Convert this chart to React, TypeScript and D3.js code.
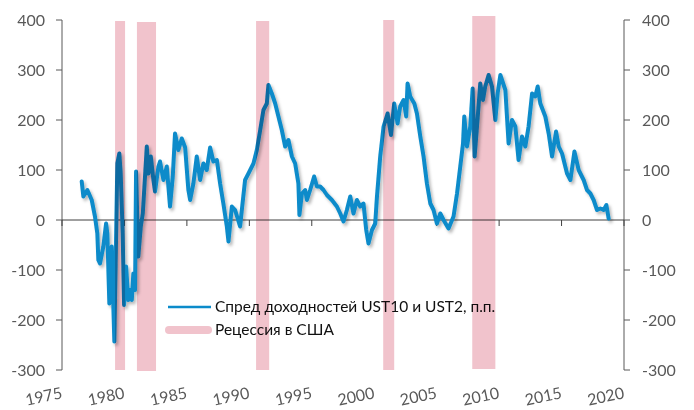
import * as d3 from 'd3';
import React from 'react';

// spread UST10 - UST2, bp
const spreadYears = [
  1976.58, 1976.71, 1977.03, 1977.38, 1977.64, 1977.83, 1977.91, 1978.04, 1978.31, 1978.53,
  1978.63, 1978.79, 1978.98, 1979.19, 1979.43, 1979.59, 1979.70, 1979.86, 1979.97, 1980.13,
  1980.31, 1980.45, 1980.59, 1980.71, 1980.85, 1980.93, 1981.11, 1981.31, 1981.47, 1981.79,
  1981.92, 1982.11, 1982.32, 1982.45, 1982.72, 1982.85, 1983.12, 1983.39, 1983.65, 1983.87,
  1984.05, 1984.32, 1984.59, 1984.86, 1985.12, 1985.26, 1985.52, 1985.79, 1986.06, 1986.32,
  1986.59, 1986.86, 1987.12, 1987.40, 1987.66, 1987.92, 1988.20, 1988.33, 1988.60, 1988.86,
  1989.26, 1989.40, 1989.66, 1989.93, 1990.33, 1990.60, 1990.87, 1991.13, 1991.40, 1991.53,
  1991.80, 1992.07, 1992.33, 1992.60, 1992.87, 1993.13, 1993.41, 1993.67, 1993.93, 1994.01,
  1994.21, 1994.47, 1994.61, 1994.87, 1995.19, 1995.41, 1995.67, 1995.94, 1996.21, 1996.61,
  1997.01, 1997.28, 1997.54, 1997.81, 1998.08, 1998.34, 1998.61, 1998.88, 1999.14, 1999.36,
  1999.54, 1999.82, 2000.08, 2000.22, 2000.48, 2000.75, 2001.07, 2001.34, 2001.60, 2001.87,
  2002.08, 2002.35, 2002.56, 2002.67, 2002.88, 2003.21, 2003.42, 2003.69, 2003.95, 2004.22,
  2004.49, 2004.75, 2005.02, 2005.29, 2005.55, 2005.95, 2006.35, 2006.63, 2006.89, 2007.11,
  2007.21, 2007.43, 2007.69, 2007.88, 2008.04, 2008.23, 2008.49, 2008.71, 2008.89, 2009.16,
  2009.43, 2009.70, 2009.88, 2010.10, 2010.50, 2010.76, 2011.03, 2011.30, 2011.56, 2011.83,
  2012.10, 2012.36, 2012.64, 2012.90, 2013.09, 2013.30, 2013.70, 2013.97, 2014.24, 2014.56,
  2014.77, 2015.04, 2015.44, 2015.71, 2016.03, 2016.37, 2016.77, 2017.04, 2017.31, 2017.57,
  2017.84, 2018.11, 2018.37, 2018.59, 2018.77
];
const spreadValues = [
  77, 47, 60, 40, 7, -27, -80, -87, -53, -7,
  -27, -167, -53, -243, 113, 133, 93, -27, -170, -93,
  -160, -140, -160, -107, -140, 97, -73, -13, 13, 147,
  93, 127, 80, 57, 107, 117, 80, 107, 27, 87,
  173, 140, 163, 145, 60, 40, 73, 127, 80, 113,
  100, 145, 117, 120, 73, 33, -13, -43, 27, 20,
  -13, 20, 80, 93, 113, 140, 180, 220, 233, 270,
  253, 233, 207, 180, 147, 160, 127, 113, 73, 10,
  53, 60, 40, 60, 87, 67, 67, 60, 50, 40,
  27, 13, -3, 20, 47, 13, 40, 27, 33, -20,
  -47, -20, -7, 47, 127, 187, 213, 170, 233, 193,
  227, 240, 207, 273, 247, 233, 213, 167, 127, 73,
  33, 20, -7, 13, 0, -17, 7, 53, 107, 153,
  207, 147, 187, 263, 127, 187, 273, 240, 267, 290,
  267, 200, 253, 290, 260, 153, 200, 187, 120, 167,
  147, 187, 253, 247, 267, 233, 207, 173, 127, 177,
  147, 133, 93, 80, 137, 100, 80, 60, 53, 40,
  20, 23, 20, 30, 3
];

// US recessions as drawn on the chart
const recessionStart = [1979.25, 1981.0, 1990.54, 2000.72, 2007.85];
const recessionEnd = [1980.05, 1982.53, 1991.59, 2001.6, 2009.7];
const recessionTop = [398, 396, 398, 400, 408];
const recessionBottom = [-300, -302, -300, -300, -298];

const yTicks = [-300, -200, -100, 0, 100, 200, 300, 400];
const xTicks = [1975, 1980, 1985, 1990, 1995, 2000, 2005, 2010, 2015, 2020];
const legendLabels = ['Спред доходностей UST10 и UST2, п.п.', 'Рецессия в США'];

const W = 694;
const H = 410;
const BLUE = '#0b8bca';
const PINK = '#f1c3cc';
const AXIS = '#595959';
const FONT = 'Lato, "Open Sans", sans-serif';

export default function App() {
  const x = d3.scaleLinear().domain([1975, 2020]).range([62, 624]);
  const y = d3.scaleLinear().domain([-300, 400]).range([370, 20]);

  const pts = spreadYears.map((yr, i) => [yr, spreadValues[i]] as [number, number]);
  const line = d3.line<[number, number]>()
    .x(d => x(d[0]))
    .y(d => y(d[1]));

  const x0 = x.range()[0];
  const x1 = x.range()[1];

  return (
    <svg width={W} height={H} style={{ position: 'absolute', left: 0, top: 0, background: '#fff' }}
      fontFamily={FONT}>
      <defs>
        <filter id="shadow" x="-5%" y="-5%" width="110%" height="110%">
          <feDropShadow dx="2" dy="2.5" stdDeviation="1.6" floodColor="#000" floodOpacity="0.28" />
        </filter>
      </defs>
      <rect width={W} height={H} fill="#fff" />

      {/* left axis */}
      <line x1={x0} x2={x0} y1={y(400)} y2={y(-300)} stroke={AXIS} strokeWidth={1} />
      {yTicks.map(t => (
        <g key={'l' + t}>
          <line x1={x0 - 6} x2={x0} y1={y(t)} y2={y(t)} stroke={AXIS} strokeWidth={1} />
          <text x={45} y={y(t)} dy="0.35em" textAnchor="end" fontSize={16} fill={AXIS}>{t}</text>
        </g>
      ))}

      {/* right axis */}
      <line x1={x1} x2={x1} y1={y(400)} y2={y(-300)} stroke={AXIS} strokeWidth={1} />
      {yTicks.map(t => (
        <g key={'r' + t}>
          <line x1={x1} x2={x1 + 6} y1={y(t)} y2={y(t)} stroke={AXIS} strokeWidth={1} />
          <text x={642} y={y(t)} dy="0.35em" textAnchor="start" fontSize={16} fill={AXIS}>{t}</text>
        </g>
      ))}

      {/* x axis along zero */}
      <line x1={x0} x2={x1} y1={y(0)} y2={y(0)} stroke="#404040" strokeWidth={1} />
      {xTicks.map(t => (
        <g key={'x' + t}>
          <line x1={x(t)} x2={x(t)} y1={y(0)} y2={y(0) + 6} stroke="#404040" strokeWidth={1} />
          <text transform={`translate(${x(t) + 1},${398}) rotate(-12)`} textAnchor="end"
            fontSize={16} fill={AXIS}>{t}</text>
        </g>
      ))}

      {/* spread */}
      <path d={line(pts) || ''} fill="none" stroke={BLUE} strokeWidth={4}
        strokeLinejoin="round" strokeLinecap="round" filter="url(#shadow)" />

      {/* legend */}
      <line x1={168} x2={211} y1={307} y2={307} stroke={BLUE} strokeWidth={2.5} />
      <text x={215} y={307} dy="0.35em" fontSize={15.5} fill="#111">{legendLabels[0]}</text>
      <line x1={169} x2={208} y1={330} y2={330} stroke={PINK} strokeWidth={8} strokeLinecap="round" />
      <text x={215} y={330} dy="0.35em" fontSize={15.5} fill="#111">{legendLabels[1]}</text>

      {/* recessions, multiplied over the line */}
      {recessionStart.map((s, i) => (
        <rect key={'rec' + i} x={x(s)} width={x(recessionEnd[i]) - x(s)}
          y={y(recessionTop[i])} height={y(recessionBottom[i]) - y(recessionTop[i])}
          fill={PINK} style={{ mixBlendMode: 'multiply' }} />
      ))}
    </svg>
  );
}
